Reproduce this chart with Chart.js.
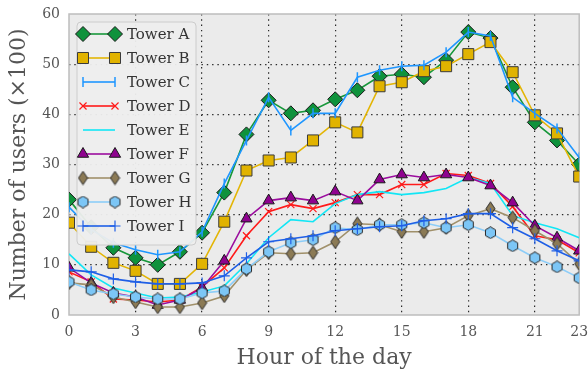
<!DOCTYPE html>
<html>
<head>
<meta charset="utf-8">
<script src="https://cdn.jsdelivr.net/npm/chart.js@4/dist/chart.umd.min.js"></script>
<style>
  html, body { margin: 0; padding: 0; background: #fff; }
  #wrap { width: 588px; height: 374px; }
</style>
</head>
<body>
<div id="wrap"><canvas id="graph_users"></canvas></div>
<script>
/*------------------------------*/
/*            Data              */
/*------------------------------*/
var hours = [0, 1, 2, 3, 4, 5, 6, 7, 8, 9, 10, 11, 12, 13, 14, 15, 16, 17, 18, 19, 20, 21, 22, 23]
var xTicks = [0, 3, 6, 9, 12, 15, 18, 21, 23]
var yTicks = [0, 10, 20, 30, 40, 50, 60]
var towerNames = ['Tower A', 'Tower B', 'Tower C', 'Tower D', 'Tower E', 'Tower F', 'Tower G', 'Tower H', 'Tower I']

var towerA = [23, 17.5, 13.4, 11.4, 10, 12.6, 16.4, 24.4, 36, 42.8, 40.2, 40.8, 43, 44.8, 47.6, 48, 47.4, 50.8, 56.4, 55.2, 45.4, 38.4, 34.8, 30]
var towerB = [18.4, 13.6, 10.4, 8.8, 6.2, 6.2, 10.2, 18.6, 28.8, 30.8, 31.4, 34.8, 38.4, 36.4, 45.6, 46.4, 48.6, 49.6, 52, 54.4, 48.4, 39.8, 36.2, 27.6]
var towerC = [21.5, 17, 14.4, 13, 12, 12.6, 16.6, 26.2, 34.8, 43.4, 36.8, 40.2, 40.2, 47.4, 48.8, 49.6, 49.8, 52.4, 56.4, 55.6, 43.4, 40.2, 37.2, 31.4]
var towerD = [8.6, 6.6, 3.2, 3, 2.6, 3, 5.6, 9.4, 15.8, 20.6, 22, 21.2, 22.4, 24, 24, 26, 26, 28.2, 27.8, 26.2, 21.6, 15.8, 15, 12.4]
var towerE = [12.2, 8, 5.4, 4.4, 3.4, 3.6, 4.6, 5.8, 10.2, 15.4, 19, 18.6, 22.2, 24, 24.6, 24, 24.4, 25.2, 27.4, 26.2, 19.8, 18.4, 17.2, 15.4]
var towerF = [9.4, 6.4, 4.4, 3.6, 2, 3, 5.4, 10.8, 19.2, 22.8, 23.4, 22.8, 24.6, 22.8, 27, 28, 27.4, 28, 27.4, 25.8, 22.4, 17.8, 15.4, 12.8]
var towerG = [6.4, 6, 3.6, 2.6, 1.6, 1.6, 2.4, 3.8, 9, 12.4, 12.2, 12.4, 14.6, 18.2, 18, 16.6, 16.6, 17.4, 19.8, 21.2, 19.4, 16.8, 14.2, 10.2]
var towerH = [6.6, 5, 4.2, 3.6, 3.2, 3.2, 4.4, 4.8, 9.2, 12.6, 14.4, 15, 17.4, 17, 18, 18, 18.4, 17.4, 18, 16.4, 13.8, 11.4, 9.6, 7.4]
var towerI = [9, 8.6, 7.2, 6.6, 6.2, 6.2, 6.4, 7.8, 11.4, 14.6, 15.2, 15.8, 16.8, 17.2, 17.6, 17.8, 18.8, 19.2, 20.2, 20.2, 17.4, 15.2, 12.8, 10.8]

var FONT = "'DejaVu Serif', 'Liberation Serif', serif"
var TEXT = '#555555'

/*------------------------------*/
/*      Custom marker images    */
/*------------------------------*/
function makeMarker(w, h, fill, edge, path) {
    var c = document.createElement('canvas')
    c.width = w
    c.height = h
    var g = c.getContext('2d')
    g.beginPath()
    path(g, w, h)
    g.closePath()
    g.fillStyle = fill
    g.fill()
    g.lineWidth = 1
    g.strokeStyle = edge
    g.stroke()
    return c
}
var hexMarker = makeMarker(13, 13, '#7cc6f6', '#2a2a2a', function (g, w, h) {
    var cx = w / 2, cy = h / 2, r = 5.8
    for (var k = 0; k < 6; k++) {
        var a = -Math.PI / 2 + k * Math.PI / 3
        if (k === 0) g.moveTo(cx + r * Math.cos(a), cy + r * Math.sin(a))
        else g.lineTo(cx + r * Math.cos(a), cy + r * Math.sin(a))
    }
})
var thinDiamond = makeMarker(11, 15, '#8b7a55', '#2a2a2a', function (g, w, h) {
    g.moveTo(w / 2, 0.8)
    g.lineTo(w - 1, h / 2)
    g.lineTo(w / 2, h - 0.8)
    g.lineTo(1, h / 2)
})

/*------------------------------*/
/*         Series styles        */
/*------------------------------*/
var series = [
    { data: towerA, line: '#17973a', fill: '#0f923c', edge: '#1a1a1a', style: 'rectRot', radius: 7.5, rot: 0, bw: 1 },
    { data: towerB, line: '#e3b505', fill: '#e1b300', edge: '#3a3a3a', style: 'rect', radius: 7.8, rot: 0, bw: 1 },
    { data: towerC, line: '#1e96ff', fill: '#1e96ff', edge: '#1e96ff', style: 'line', radius: 5, rot: 90, bw: 1.5 },
    { data: towerD, line: '#ff1a1a', fill: '#ff1a1a', edge: '#ff1a1a', style: 'crossRot', radius: 5, rot: 0, bw: 1.2 },
    { data: towerE, line: '#12e6f5', fill: '#12e6f5', edge: '#12e6f5', style: false, radius: 0, rot: 0, bw: 0 },
    { data: towerF, line: '#9b0d9e', fill: '#8f028f', edge: '#1a1a1a', style: 'triangle', radius: 6.5, rot: 0, bw: 1 },
    { data: towerG, line: '#a0906a', fill: '#8b7a55', edge: '#2a2a2a', style: thinDiamond, radius: 7, rot: 0, bw: 1 },
    { data: towerH, line: '#8dcdf8', fill: '#7cc6f6', edge: '#2a2a2a', style: hexMarker, radius: 6.5, rot: 0, bw: 1 },
    { data: towerI, line: '#1f5fe6', fill: '#1f5fe6', edge: '#1f5fe6', style: 'cross', radius: 5.5, rot: 0, bw: 1.2 }
]

var datasets_users = series.map(function (s, i) {
    return {
        label: towerNames[i],
        data: hours.map(function (h, k) { return { x: h, y: s.data[k] } }),
        borderColor: s.line,
        backgroundColor: s.fill,
        borderWidth: 1.6,
        pointStyle: s.style,
        pointRadius: s.radius,
        pointRotation: s.rot,
        pointBackgroundColor: s.fill,
        pointBorderColor: s.edge,
        pointBorderWidth: s.bw,
        pointHoverRadius: s.radius,
        tension: 0,
        fill: false,
        order: towerNames.length - i
    }
})

/*------------------------------*/
/*           Plugins            */
/*------------------------------*/
var framePlugin = {
    id: 'frame',
    beforeDraw: function (chart) {
        var a = chart.chartArea, ctx = chart.ctx
        ctx.save()
        ctx.fillStyle = '#ebebeb'
        ctx.fillRect(a.left, a.top, a.right - a.left, a.bottom - a.top)
        ctx.restore()
    },
    beforeDatasetsDraw: function (chart) {
        var a = chart.chartArea, ctx = chart.ctx
        ctx.save()
        ctx.strokeStyle = '#bdbdbd'
        ctx.lineWidth = 1.5
        ctx.strokeRect(a.left, a.top, a.right - a.left, a.bottom - a.top)
        ctx.restore()
    }
}

var legendPlugin = {
    id: 'insideLegend',
    afterDatasetsDraw: function (chart) {
        var ctx = chart.ctx
        var x0 = 77, y0 = 22, w = 119, h = 223, r = 4
        ctx.save()
        ctx.beginPath()
        ctx.moveTo(x0 + r, y0)
        ctx.arcTo(x0 + w, y0, x0 + w, y0 + h, r)
        ctx.arcTo(x0 + w, y0 + h, x0, y0 + h, r)
        ctx.arcTo(x0, y0 + h, x0, y0, r)
        ctx.arcTo(x0, y0, x0 + w, y0, r)
        ctx.closePath()
        ctx.fillStyle = 'rgba(238,238,238,0.95)'
        ctx.fill()
        ctx.strokeStyle = '#cccccc'
        ctx.lineWidth = 1
        ctx.stroke()

        series.forEach(function (s, i) {
            var y = 34 + i * 24
            ctx.beginPath()
            ctx.moveTo(83, y)
            ctx.lineTo(115, y)
            ctx.strokeStyle = s.line
            ctx.lineWidth = 1.6
            ctx.stroke()
            if (s.style) {
                ;[83, 115].forEach(function (px) {
                    ctx.fillStyle = s.fill
                    ctx.strokeStyle = s.edge
                    ctx.lineWidth = s.bw
                    Chart.helpers.drawPoint(ctx, { pointStyle: s.style, rotation: s.rot, radius: s.radius, borderWidth: s.bw }, px, y)
                })
            }
            ctx.fillStyle = '#333333'
            ctx.font = "15px " + FONT
            ctx.textAlign = 'left'
            ctx.textBaseline = 'middle'
            ctx.fillText(towerNames[i], 127, y + 1)
        })
        ctx.restore()
    }
}

/*------------------------------*/
/*            Chart             */
/*------------------------------*/
var ctx_users = document.getElementById('graph_users').getContext('2d')

var config_users = {
    type: 'line',
    data: { datasets: datasets_users },
    options: {
        responsive: true,
        maintainAspectRatio: false,
        animation: false,
        layout: { padding: { top: 14, right: 8, left: 0, bottom: 0 } },
        plugins: {
            legend: { display: false },
            tooltip: { enabled: false }
        },
        scales: {
            x: {
                type: 'linear',
                min: 0,
                max: 23,
                afterBuildTicks: function (scale) {
                    scale.ticks = xTicks.map(function (v) { return { value: v } })
                },
                afterFit: function (scale) {
                    scale.height = 59
                    scale.paddingLeft = 0
                    scale.paddingRight = 0
                },
                grid: {
                    color: function (c) {
                        var v = c.tick && c.tick.value
                        return (v === 0 || v === 23) ? 'rgba(0,0,0,0)' : 'rgba(20,20,20,0.9)'
                    },
                    lineWidth: 1.2,
                    tickLength: 0,
                    drawTicks: false
                },
                border: { display: false, dash: [1.4, 3.9] },
                ticks: {
                    autoSkip: false,
                    maxRotation: 0,
                    padding: 9,
                    color: TEXT,
                    font: { family: FONT, size: 14 }
                },
                title: {
                    display: true,
                    text: 'Hour of the day',
                    color: TEXT,
                    font: { family: FONT, size: 22 },
                    padding: { top: 0, bottom: 3 }
                }
            },
            y: {
                min: 0,
                max: 60,
                afterBuildTicks: function (scale) {
                    scale.ticks = yTicks.map(function (v) { return { value: v } })
                },
                afterFit: function (scale) {
                    scale.width = 69
                    scale.paddingTop = 0
                    scale.paddingBottom = 0
                },
                grid: {
                    color: function (c) {
                        var v = c.tick && c.tick.value
                        return (v === 0 || v === 60) ? 'rgba(0,0,0,0)' : 'rgba(20,20,20,0.9)'
                    },
                    lineWidth: 1.2,
                    tickLength: 0,
                    drawTicks: false
                },
                border: { display: false, dash: [1.4, 3.9] },
                ticks: {
                    padding: 9,
                    color: TEXT,
                    font: { family: FONT, size: 14 }
                },
                title: {
                    display: true,
                    text: 'Number of users (\u00d7100)',
                    color: TEXT,
                    font: { family: FONT, size: 22 },
                    padding: { top: 6, bottom: 0 }
                }
            }
        }
    },
    plugins: [framePlugin, legendPlugin]
}
var graph_users = new Chart(ctx_users, config_users)
</script>
</body>
</html>
